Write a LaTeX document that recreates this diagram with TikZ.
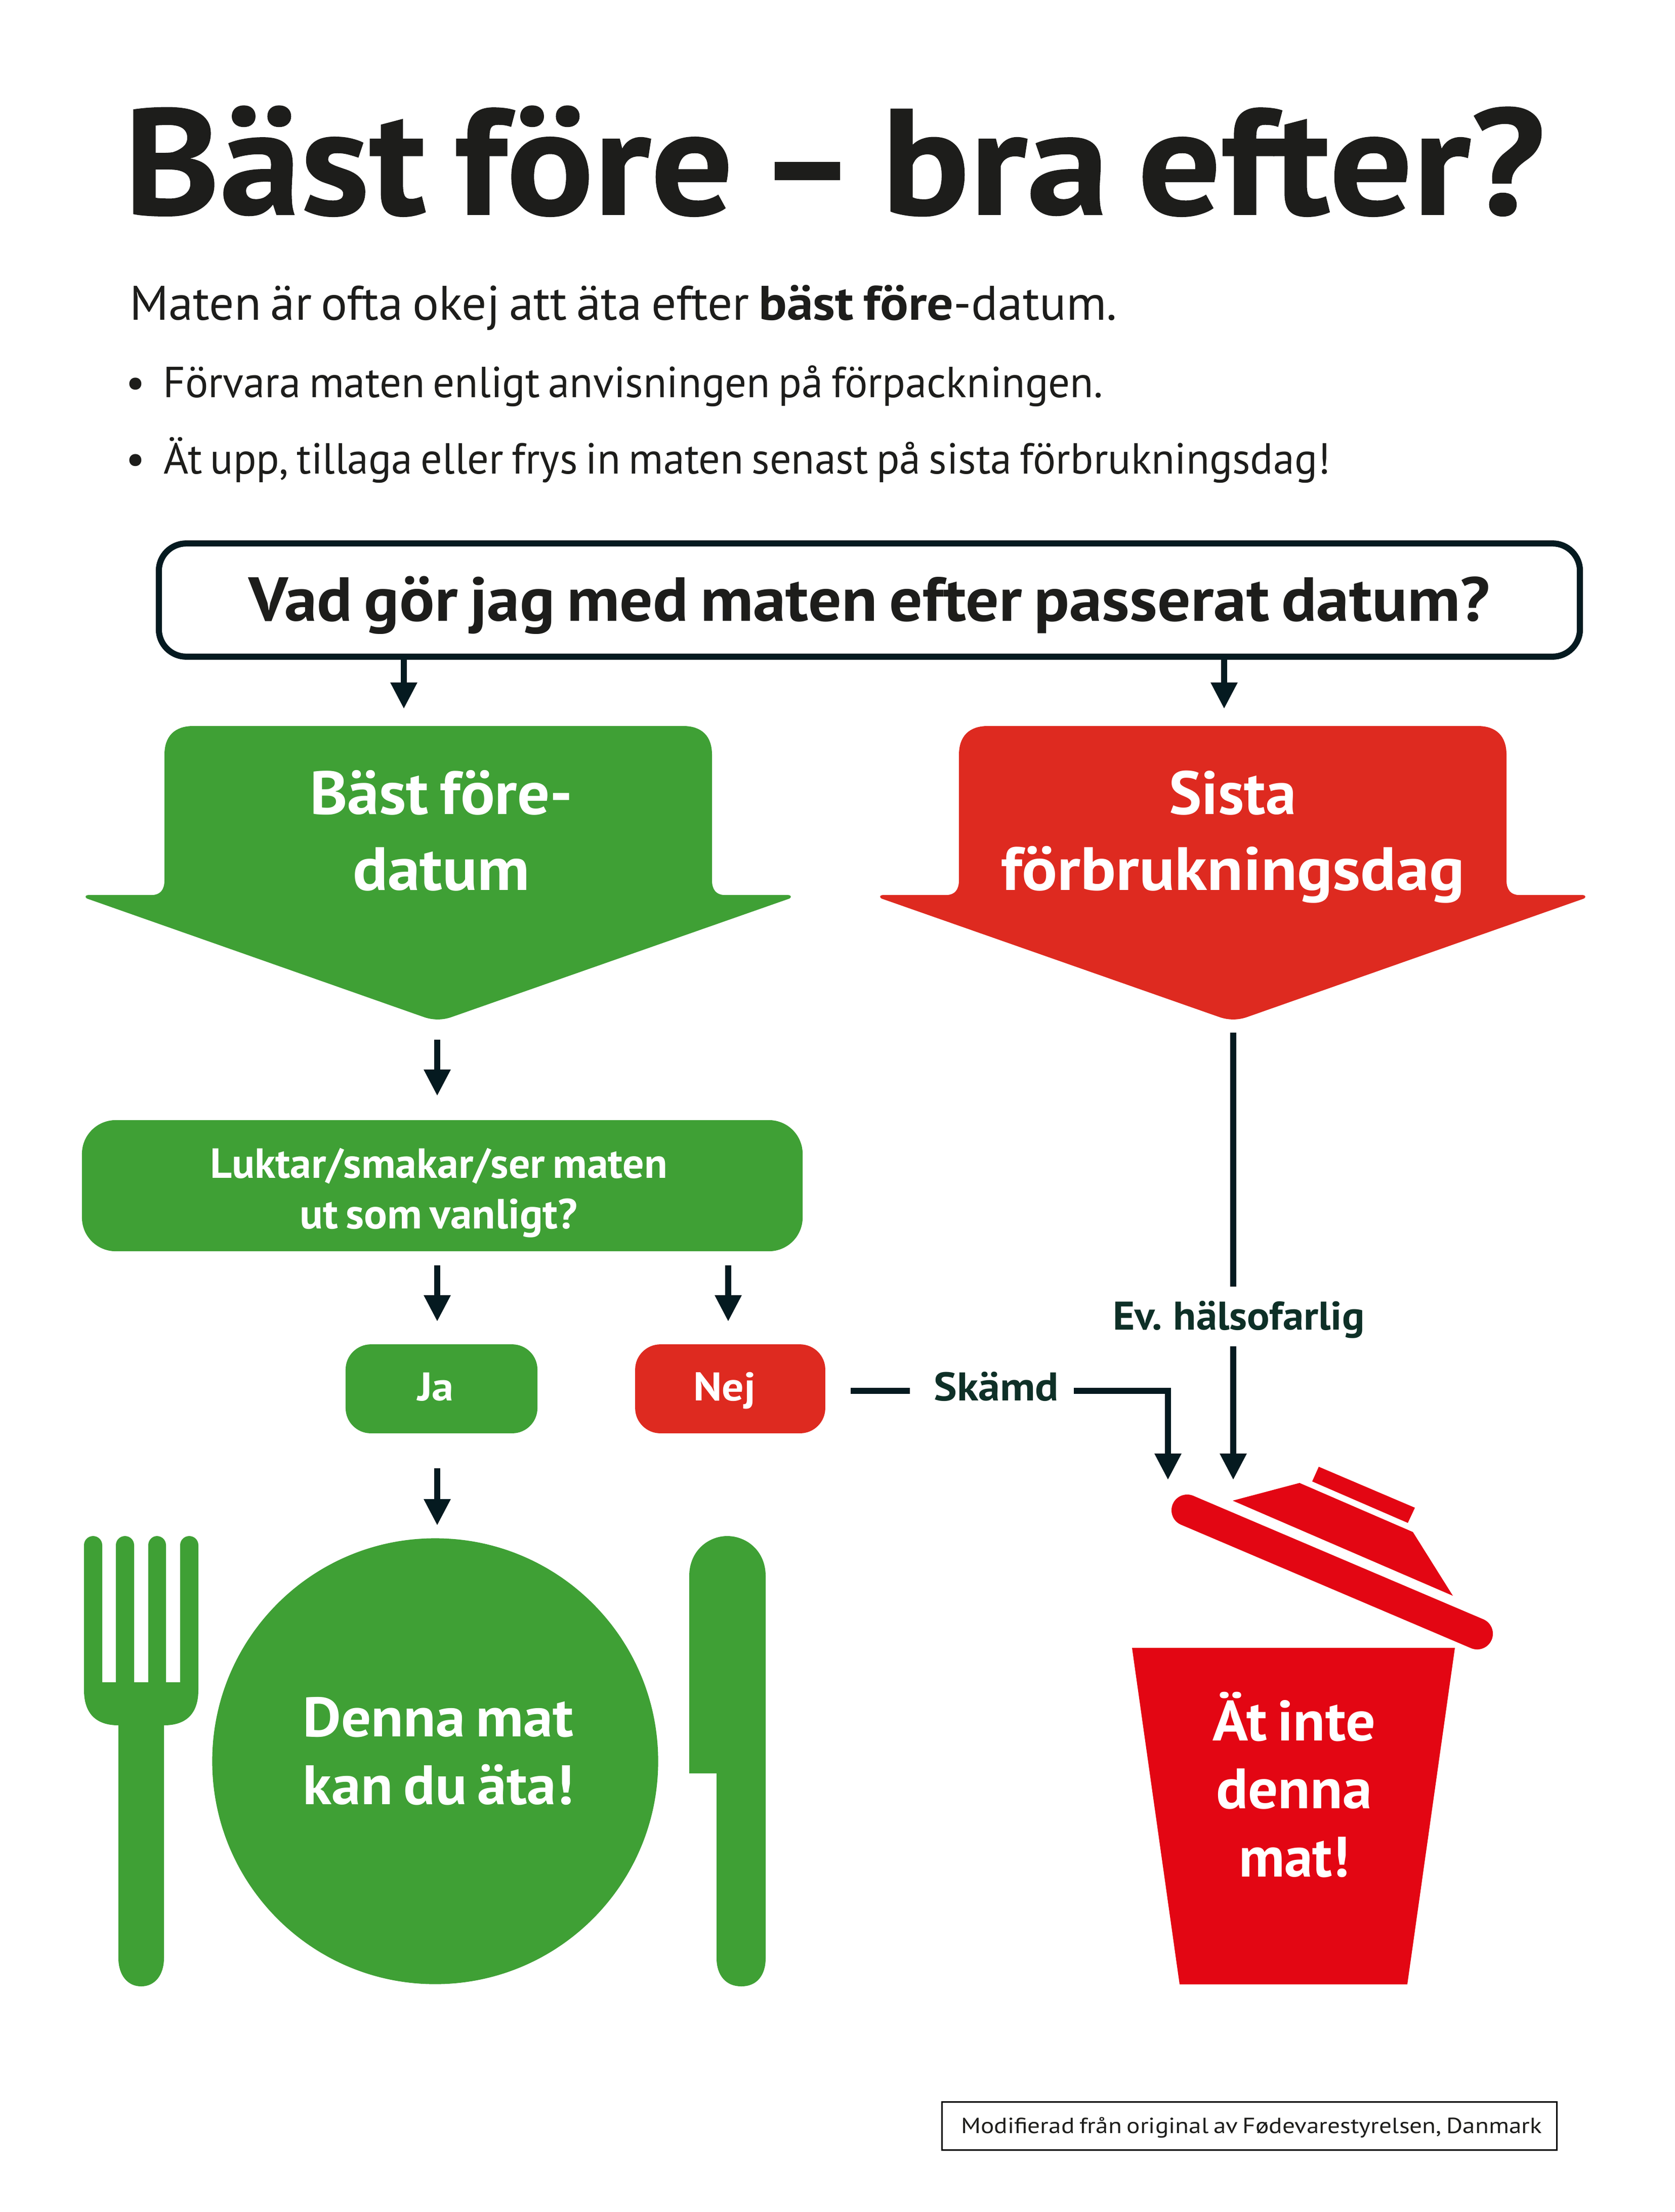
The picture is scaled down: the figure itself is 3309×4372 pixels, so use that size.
\documentclass[tikz,border=0pt]{standalone}
\usepackage{fontspec}
\usepackage{graphicx}
\setmainfont[WordSpace=0.72]{PT Sans}
\newfontfamily\titlefont[BoldFont={PT Sans Bold},FakeBold=0.6,WordSpace=0.7]{PT Sans Bold}
\usetikzlibrary{arrows.meta,calc}
\definecolor{grn}{HTML}{3FA035}
\definecolor{redA}{HTML}{DE2A20}
\definecolor{redB}{HTML}{E30613}
\definecolor{ink}{HTML}{1D1D1B}
\definecolor{lin}{HTML}{051A20}
\definecolor{lab}{HTML}{0E3027}
\newcommand\fitw[2]{\setbox0=\hbox{#2}\pgfmathsetmacro\rr{#1*0.24/\the\wd0}\scalebox{\rr}[1]{\box0}}
\newcommand\fs[2]{\fontsize{#1pt}{#2pt}\selectfont}
\tikzset{
  x=0.24pt,y=-0.24pt,
  txt/.style={inner sep=0pt,outer sep=0pt,anchor=base,align=center},
  conn/.style={draw=lin,line width=2.9pt,-{Triangle[width=12pt,length=12.5pt]}},
  lead/.style={draw=lin,line width=2.9pt},
  plain/.style={inner sep=0pt,outer sep=0pt},
}
\newcommand\bigarrow[3]{%
  \fill[#2,shift={(#1,0)}] (325,1492) .. controls (325,1455) and (345,1435) .. (382,1435)
   -- (1350,1435) .. controls (1387,1435) and (1407,1455) .. (1407,1492)
   -- (1407,1740) .. controls (1407,1758) and (1415,1769) .. (1432,1769)
   -- (1557,1769) .. controls (1563,1769) and (1565,1773) .. (1560,1776)
   -- (#3+28,2010) .. controls (#3+10,2016.5) and (#3-10,2016.5) .. (#3-28,2010)
   -- (172,1776) .. controls (167,1773) and (169,1769) .. (175,1769)
   -- (300,1769) .. controls (317,1769) and (325,1758) .. (325,1740) -- cycle;}
\begin{document}
\begin{tikzpicture}
\useasboundingbox (0,0) rectangle (3309,4372);
% title block
\node[txt,text=ink,font=\fs{71.5}{80}\titlefont] (title) at (1649,424) {\fitw{1204}{Bäst före}\fitw{293}{ – }\fitw{1311}{bra efter?}};
\node[txt,text=ink,font=\fs{23}{28}] (sub) at (1232,633) {\fitw{1243}{Maten är ofta okej att äta efter }\fitw{385}{\textbf{bäst före}}\fitw{323}{-datum.}};
\node[txt,text=ink,font=\fs{20.6}{25}] (b1) at (268,786) {•};
\node[txt,text=ink,font=\fs{20.6}{25}] (l1) at (1251,786) {\fitw{1857}{Förvara maten enligt anvisningen på förpackningen.}};
\node[txt,text=ink,font=\fs{20.6}{25}] (b2) at (268,937) {•};
\node[txt,text=ink,font=\fs{20.6}{25}] (l2) at (1476,937) {\fitw{2306}{Ät upp, tillaga eller frys in maten senast på sista förbrukningsdag!}};
% question
\node[draw=lin,line width=2.9pt,rounded corners=13pt,minimum width=674pt,minimum height=53.7pt,plain] (q) at (1718,1186) {};
\node[txt,text=ink,font=\fs{29.5}{36}\bfseries] (qt) at (1718,1227) {\fitw{2453}{Vad gör jag med maten efter passerat datum?}};
% big arrows
\bigarrow{0}{grn}{865}
\bigarrow{1570}{redA}{867}
\node[txt,text=white,font=\fs{29}{36}\bfseries] (best) at (872,1759) {\fitw{520}{Bäst före-}\\\fitw{350}{datum}};
\node[txt,text=white,font=\fs{29}{36}\bfseries] (sista) at (2436,1759) {\fitw{251}{Sista}\\\fitw{916}{förbrukningsdag}};
\coordinate (qa) at (798,1401);
\coordinate (qb) at (2419,1401);
\draw[conn] (q.south -| qa) -- (qa);
\draw[conn] (q.south -| qb) -- (qb);
% question box green
\node[fill=grn,rounded corners=16pt,minimum width=341.8pt,minimum height=62.2pt,plain] (smell) at (874,2343.5) {};
\node[txt,text=white,font=\fs{20}{24}\bfseries] (smellt) at (867,2428) {\fitw{904}{Luktar/smakar/ser maten}\\\fitw{549}{ut som vanligt?}};
\coordinate (ga) at (864,2055); \coordinate (gb) at (864,2166);
\draw[conn] (ga) -- (gb);
\coordinate (ja1) at (864,2501); \coordinate (ja2) at (864,2612);
\coordinate (ne1) at (1439,2501); \coordinate (ne2) at (1439,2612);
\draw[conn] (ja1) -- (ja2);
\draw[conn] (ne1) -- (ne2);
\node[fill=grn,rounded corners=12pt,minimum width=91pt,minimum height=42.2pt,plain] (ja) at (872.5,2745) {};
\node[txt,text=white,font=\fs{19}{23}\bfseries] (jat) at (861,2768) {\fitw{72}{Ja}};
\node[fill=redA,rounded corners=12pt,minimum width=90.2pt,minimum height=42.2pt,plain] (nej) at (1443,2745) {};
\node[txt,text=white,font=\fs{19}{23}\bfseries] (nejt) at (1432,2768) {\fitw{123}{Nej}};
% Skämd
\node[txt,text=lab,font=\fs{19}{23}\bfseries] (sk) at (1969,2768) {\fitw{247}{Skämd}};
\coordinate (sk0) at (1681,2749); \coordinate (sk1) at (1798,2749); \coordinate (sk2) at (2122,2749);
\coordinate (sk3) at (2308,2749); \coordinate (sk4) at (2308,2925);
\draw[lead] (sk0) -- (sk1);
\draw[conn] (sk2) -- (sk3) -- (sk4);
% Ev. halsofarlig
\node[txt,text=lab,font=\fs{19}{23}\bfseries] (ev) at (2448,2628) {\fitw{497}{Ev. hälsofarlig}};
\coordinate (e0) at (2437,2041); \coordinate (e1) at (2437,2543); \coordinate (e2) at (2437,2661); \coordinate (e3) at (2437,2925);
\draw[lead] (e0) -- (e1);
\draw[conn] (e2) -- (e3);
% plate
\node[circle,fill=grn,minimum size=211.5pt,plain] (plate) at (860,3481) {};
\node[txt,text=white,font=\fs{26.4}{32}\bfseries] (platet) at (866,3566) {\fitw{535}{Denna mat}\\\fitw{535}{kan du äta!}};
\coordinate (p1) at (864,2902); \coordinate (p2) at (864,3015);
\draw[conn] (p1) -- (p2);
% fork
\fill[grn] (166,3054) .. controls (166,3044) and (174,3036) .. (184,3036) .. controls (194,3036) and (202,3044) .. (202,3054)
 -- (202,3325) -- (229,3325) -- (229,3054) .. controls (229,3044) and (237,3036) .. (247,3036) .. controls (257,3036) and (265,3044) .. (265,3054)
 -- (265,3325) -- (293,3325) -- (293,3054) .. controls (293,3044) and (301,3036) .. (310,3036) .. controls (320,3036) and (328,3044) .. (328,3054)
 -- (328,3325) -- (356,3325) -- (356,3054) .. controls (356,3044) and (364,3036) .. (374,3036) .. controls (384,3036) and (392,3044) .. (392,3054)
 -- (392,3340) .. controls (392,3385) and (370,3410) .. (324,3410) -- (324,3870) .. controls (324,3905) and (305,3926) .. (279,3926)
 .. controls (253,3926) and (234,3905) .. (234,3870) -- (234,3410) .. controls (188,3410) and (166,3385) .. (166,3340) -- cycle;
% knife
\fill[grn] (1362,3505) -- (1362,3115) .. controls (1362,3065) and (1400,3036) .. (1437,3036) .. controls (1475,3036) and (1513,3065) .. (1513,3115)
 -- (1513,3870) .. controls (1513,3905) and (1495,3926) .. (1465,3926) .. controls (1435,3926) and (1416,3905) .. (1416,3870) -- (1416,3505) -- cycle;
% bin
\fill[redB] (2237,3257) -- (2875,3257) -- (2781,3922) -- (2331,3922) -- cycle;
\draw[redB,line width=14.9pt,line cap=round] (2346,2985) -- (2919,3229);
\fill[redB] (2436,2966) -- (2568,2931) -- (2792,3028) -- (2871,3154) -- cycle;
\fill[redB] (2606,2899) -- (2796,2980) -- (2782,3010) -- (2593,2928) -- cycle;
\node[txt,text=white,font=\fs{27}{32.2}\bfseries] (bint) at (2557,3709) {\fitw{322}{Ät inte}\\\fitw{308}{denna}\\\fitw{218}{mat!}};
% footer
\node[draw=black,line width=0.7pt,minimum width=291.5pt,minimum height=22.8pt,plain] (foot) at (2469,4201.5) {};
\node[txt,text=ink,font=\fs{10.4}{13}] (foott) at (2473,4216) {\fitw{1148}{Modifierad från original av Fødevarestyrelsen, Danmark}};
\end{tikzpicture}
\end{document}
